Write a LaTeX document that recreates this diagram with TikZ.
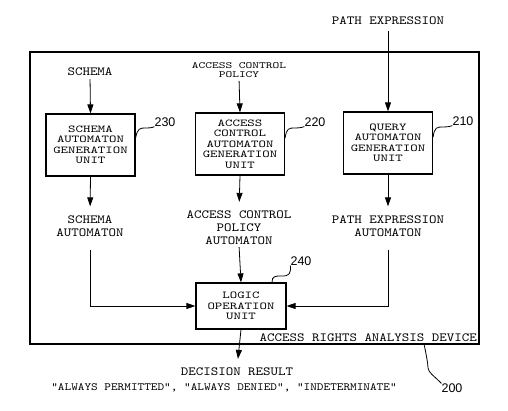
\documentclass[tikz,border=0pt]{standalone}
\usepackage{fontspec}
\setmonofont[FakeStretch=1.15]{lmmono10-regular.otf}
\newfontfamily\boxfont[FakeStretch=1.35]{lmmono10-regular.otf}
\newfontfamily\numfont{Liberation Sans}
\usetikzlibrary{arrows.meta}
\begin{document}
\begin{tikzpicture}[x=1pt,y=-1pt,
  unitbox/.style={draw,line width=1.2pt,minimum width=89pt,minimum height=62pt,inner sep=0pt,align=center,font=\boxfont\fontsize{10.5}{10.5}\selectfont},
  lbl/.style={inner sep=0pt,align=center,font=\ttfamily\fontsize{12.4}{13}\selectfont},
  num/.style={inner sep=0pt,font=\numfont\fontsize{12.5}{13}\selectfont},
  arr/.style={line width=0.8pt,-{Triangle[length=9pt,width=6pt]}},
  lead/.style={line width=0.8pt}]
\useasboundingbox (0,0) rectangle (508,411);
\fill[white] (0,0) rectangle (508,411);
% outer device box
\draw[line width=1.2pt] (30,52) rectangle (479,344);
\node[lbl,anchor=base east] (dev) at (477,341) {ACCESS RIGHTS ANALYSIS DEVICE};
% inputs
\node[lbl] (pathin) at (388,21) {PATH EXPRESSION};
\node[lbl] (schemain) at (90,72) {SCHEMA};
\node[inner sep=0pt,align=center,font=\boxfont\fontsize{9.5}{9.5}\selectfont] (acpin) at (239,70) {ACCESS CONTROL\\POLICY};
% units
\node[unitbox] (u230) at (90.5,145) {SCHEMA\\AUTOMATON\\GENERATION\\UNIT};
\node[unitbox] (u220) at (240,144) {ACCESS\\CONTROL\\AUTOMATON\\GENERATION\\UNIT};
\node[unitbox] (u210) at (388,143) {QUERY\\AUTOMATON\\GENERATION\\UNIT};
% automata
\node[lbl] (sa) at (90,226) {SCHEMA\\AUTOMATON};
\node[lbl] (aa) at (239,228) {ACCESS CONTROL\\POLICY\\AUTOMATON};
\node[lbl] (pa) at (388,226) {PATH EXPRESSION\\AUTOMATON};
% logic unit
\node[unitbox,minimum width=90pt,minimum height=46pt] (logic) at (241,306) {LOGIC\\OPERATION\\UNIT};
% outputs
\node[lbl] (dec) at (237,372) {DECISION RESULT};
\node[inner sep=0pt,font=\ttfamily\fontsize{11}{13}\selectfont] (res) at (224,388) {"ALWAYS PERMITTED", "ALWAYS DENIED", "INDETERMINATE"};
% numbers
\node[num] (n230) at (165,122) {230};
\node[num] (n220) at (315,122) {220};
\node[num] (n210) at (463,121) {210};
\node[num] (n240) at (301,261) {240};
\node[num] (n200) at (452,388) {200};
% arrows
\draw[arr] (pathin.south) ++(0,6) -- (u210.north);
\draw[arr,shorten <=3pt] (schemain.south) -- (u230.north);
\draw[arr,shorten <=3pt] (acpin.south) -- (u220.north);
\draw[arr,shorten >=9pt] (u230.south) -- (sa.north);
\draw[arr,shorten >=9pt] (u220.south) -- (aa.north);
\draw[arr,shorten >=9pt] (u210.south) -- (pa.north);
\draw[arr,shorten <=13pt] (sa.south) |- (logic.west);
\draw[arr,shorten <=13pt] (pa.south) |- (logic.east);
\draw[arr,shorten <=2pt] (aa.south) -- (logic.north);
\draw[arr,shorten >=9pt] (logic.south) -- (dec.north);
% leader lines
\draw[lead] (u230.east |- 0,138) .. controls (137.5,128) and (140,128) .. (146,128) .. controls (152,128) and (154,127) .. (n230.south west);
\draw[lead] (u220.east |- 0,138) .. controls (286.5,128) and (289,128) .. (295,128) .. controls (301,128) and (303,127) .. (n220.south west);
\draw[lead] (u210.east |- 0,137) .. controls (434.5,127) and (437,127) .. (443,127) .. controls (449,127) and (451,126) .. (n210.south west);
\draw[lead] (logic.north -| 272,0) .. controls (272,276) and (275,276) .. (282,276) .. controls (289,276) and (291,274) .. (n240.south west);
\coordinate (d200) at (424,344);
\draw[lead] (d200) .. controls (427,358) and (428,365) .. (428,368) .. controls (429,373) and (432,374) .. (n200.north west);
\end{tikzpicture}
\end{document}
